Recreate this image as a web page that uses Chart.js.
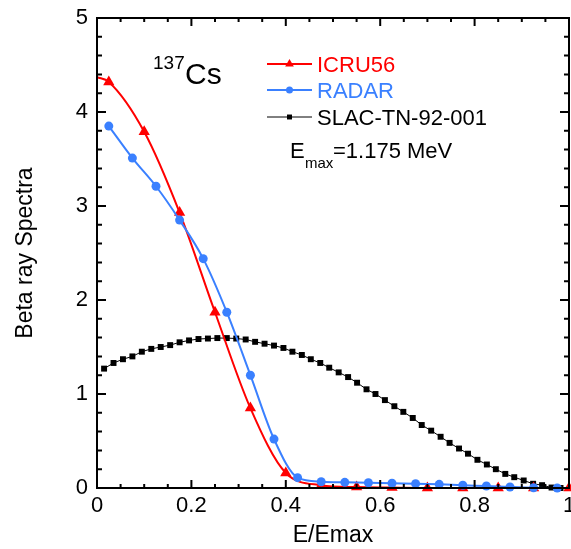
<!DOCTYPE html>
<html><head><meta charset="utf-8">
<script src="https://cdn.jsdelivr.net/npm/chart.js@4"></script>
<style>html,body{margin:0;padding:0;background:#fff}</style>
</head><body>
<canvas id="c" width="571" height="549"></canvas>
<script>
// ---- data ----
const icruX = [0, 0.025, 0.1, 0.175, 0.25, 0.325, 0.4, 0.475, 0.55, 0.625, 0.7, 0.775, 0.85, 0.925, 1.0];
const icruY = [4.37, 4.32, 3.79, 2.93, 1.87, 0.85, 0.16, 0.03, 0.01, 0.005, 0, 0, 0, 0, 0];
const icruMarker = [false, true, true, true, true, true, true, true, true, true, true, true, true, true, true];

const radarX = [0.025, 0.075, 0.125, 0.175, 0.225, 0.275, 0.325, 0.375, 0.425, 0.475, 0.525, 0.575, 0.625, 0.675, 0.725, 0.775, 0.825, 0.875, 0.925, 0.975];
const radarY = [3.85, 3.51, 3.21, 2.85, 2.44, 1.87, 1.20, 0.52, 0.11, 0.067, 0.06, 0.056, 0.05, 0.046, 0.039, 0.029, 0.021, 0.011, 0.003, 0];

const slacX = [0.015,0.035,0.055,0.075,0.095,0.115,0.135,0.155,0.175,0.195,0.215,0.235,0.255,0.275,0.295,0.315,0.335,0.355,0.375,0.395,
               0.414,0.434,0.453,0.473,0.492,0.512,0.532,0.551,0.571,0.590,0.610,0.630,0.649,0.669,0.688,0.708,0.728,0.747,0.767,0.786,
               0.806,0.826,0.845,0.865,0.884,0.904,0.924,0.943,0.963,0.982];
const slacY = [1.27,1.33,1.37,1.40,1.45,1.48,1.50,1.52,1.55,1.57,1.585,1.59,1.595,1.595,1.59,1.58,1.555,1.535,1.515,1.49,
               1.45,1.415,1.37,1.33,1.28,1.23,1.18,1.12,1.05,1.0,0.935,0.87,0.81,0.745,0.67,0.61,0.545,0.48,0.42,0.365,
               0.30,0.25,0.20,0.15,0.115,0.08,0.045,0.03,0.005,0.0];

const seriesNames = ['ICRU56', 'RADAR', 'SLAC-TN-92-001'];
const xTicks = [0, 0.2, 0.4, 0.6, 0.8, 1];
const yTicks = [0, 1, 2, 3, 4, 5];
const xTitle = 'E/Emax';
const yTitle = 'Beta ray Spectra';

const RED = '#ff0000', BLUE = '#3a80ff', BLACK = '#000000';
const FONT = '"Liberation Sans", Arial, Helvetica, sans-serif';

function pts(xs, ys) { return xs.map((x, i) => ({x: x, y: ys[i]})); }

const framePlugin = {
  id: 'frame',
  afterDatasetsDraw(chart) {
    const ctx = chart.ctx, a = chart.chartArea, xs = chart.scales.x, ys = chart.scales.y;
    ctx.save();
    ctx.strokeStyle = '#000';
    ctx.lineWidth = 2;
    ctx.strokeRect(a.left, a.top, a.right - a.left, a.bottom - a.top);
    ctx.beginPath();
    for (let i = 0; i <= 20; i++) {
      const px = xs.getPixelForValue(i * 0.05);
      const len = (i % 4 === 0) ? 8 : 4;
      ctx.moveTo(px, a.bottom); ctx.lineTo(px, a.bottom - len);
      ctx.moveTo(px, a.top); ctx.lineTo(px, a.top + len);
    }
    for (let i = 0; i <= 25; i++) {
      const py = ys.getPixelForValue(i * 0.2);
      const len = (i % 5 === 0) ? 9 : 5;
      ctx.moveTo(a.left, py); ctx.lineTo(a.left + len, py);
      ctx.moveTo(a.right, py); ctx.lineTo(a.right - len, py);
    }
    ctx.stroke();

    // annotations
    ctx.fillStyle = '#000';
    ctx.textBaseline = 'alphabetic';
    ctx.textAlign = 'left';
    ctx.font = '19px ' + FONT;
    ctx.fillText('137', 153, 69);
    ctx.font = '30px ' + FONT;
    ctx.fillText('Cs', 185, 84);

    // legend
    const legendY = [64, 90, 117];
    const markR = [5, 3.5, 3.5];
    chart.data.datasets.forEach((ds, i) => {
      const y = legendY[i];
      ctx.strokeStyle = ds.borderColor;
      ctx.lineWidth = ds.borderWidth;
      ctx.beginPath(); ctx.moveTo(267, y); ctx.lineTo(312, y); ctx.stroke();
      ctx.fillStyle = ds.pointBackgroundColor;
      ctx.strokeStyle = ds.pointBackgroundColor;
      Chart.helpers.drawPoint(ctx, {pointStyle: ds.pointStyle, radius: markR[i], rotation: 0, borderWidth: 0}, 289.5, y);
      ctx.fillStyle = ds.legendTextColor;
      ctx.font = '22px ' + FONT;
      ctx.fillText(ds.label, 317, y + 8);
    });

    ctx.fillStyle = '#000';
    ctx.font = '22px ' + FONT;
    ctx.fillText('E', 290, 158);
    ctx.font = '15px ' + FONT;
    ctx.fillText('max', 305, 168);
    ctx.font = '22px ' + FONT;
    ctx.fillText('=1.175 MeV', 333, 158);
    ctx.restore();
  }
};

new Chart(document.getElementById('c'), {
  type: 'scatter',
  data: {
    datasets: [
      {
        label: seriesNames[0], data: pts(icruX, icruY), showLine: true,
        borderColor: RED, borderWidth: 2, backgroundColor: RED,
        pointBackgroundColor: RED, pointBorderColor: RED, pointBorderWidth: 0,
        pointStyle: 'triangle', pointRadius: icruMarker.map(m => m ? 6.5 : 0),
        cubicInterpolationMode: 'monotone', clip: false, legendTextColor: RED, order: 1
      },
      {
        label: seriesNames[1], data: pts(radarX, radarY), showLine: true,
        borderColor: BLUE, borderWidth: 2, backgroundColor: BLUE,
        pointBackgroundColor: BLUE, pointBorderColor: BLUE, pointBorderWidth: 0,
        pointStyle: 'circle', pointRadius: 4.5,
        cubicInterpolationMode: 'monotone', clip: false, legendTextColor: BLUE, order: 0
      },
      {
        label: seriesNames[2], data: pts(slacX, slacY), showLine: true,
        borderColor: BLACK, borderWidth: 1, backgroundColor: BLACK,
        pointBackgroundColor: BLACK, pointBorderColor: BLACK, pointBorderWidth: 0,
        pointStyle: 'rect', pointRadius: 4.2, tension: 0, clip: false, legendTextColor: BLACK, order: 2
      }
    ]
  },
  options: {
    responsive: false, animation: false, devicePixelRatio: 1,
    layout: { autoPadding: false, padding: { top: 18, right: 2, left: 0, bottom: 0 } },
    plugins: { legend: { display: false }, tooltip: { enabled: false } },
    elements: { point: { hoverRadius: 0 } },
    scales: {
      x: {
        type: 'linear', min: 0, max: 1,
        afterFit(s) { s.height = 61; s.paddingLeft = 0; s.paddingRight = 0; },
        afterBuildTicks(s) { s.ticks = xTicks.map(v => ({value: v})); },
        grid: { display: false, drawTicks: false },
        border: { display: false },
        ticks: { color: '#000', font: { family: FONT, size: 22 }, padding: 5, maxRotation: 0, autoSkip: false,
                 callback: v => String(v) },
        title: { display: true, text: xTitle, color: '#000', font: { family: FONT, size: 23 }, padding: { top: 0, bottom: 0 } }
      },
      y: {
        type: 'linear', min: 0, max: 5,
        afterFit(s) { s.width = 97; s.paddingTop = 0; s.paddingBottom = 0; },
        afterBuildTicks(s) { s.ticks = yTicks.map(v => ({value: v})); },
        grid: { display: false, drawTicks: false },
        border: { display: false },
        ticks: { color: '#000', font: { family: FONT, size: 22 }, padding: 9, autoSkip: false,
                 callback: v => String(v) },
        title: { display: true, text: yTitle, color: '#000', font: { family: FONT, size: 23 }, padding: { top: 12, bottom: 0 } }
      }
    }
  },
  plugins: [framePlugin]
});
</script>
</body></html>
